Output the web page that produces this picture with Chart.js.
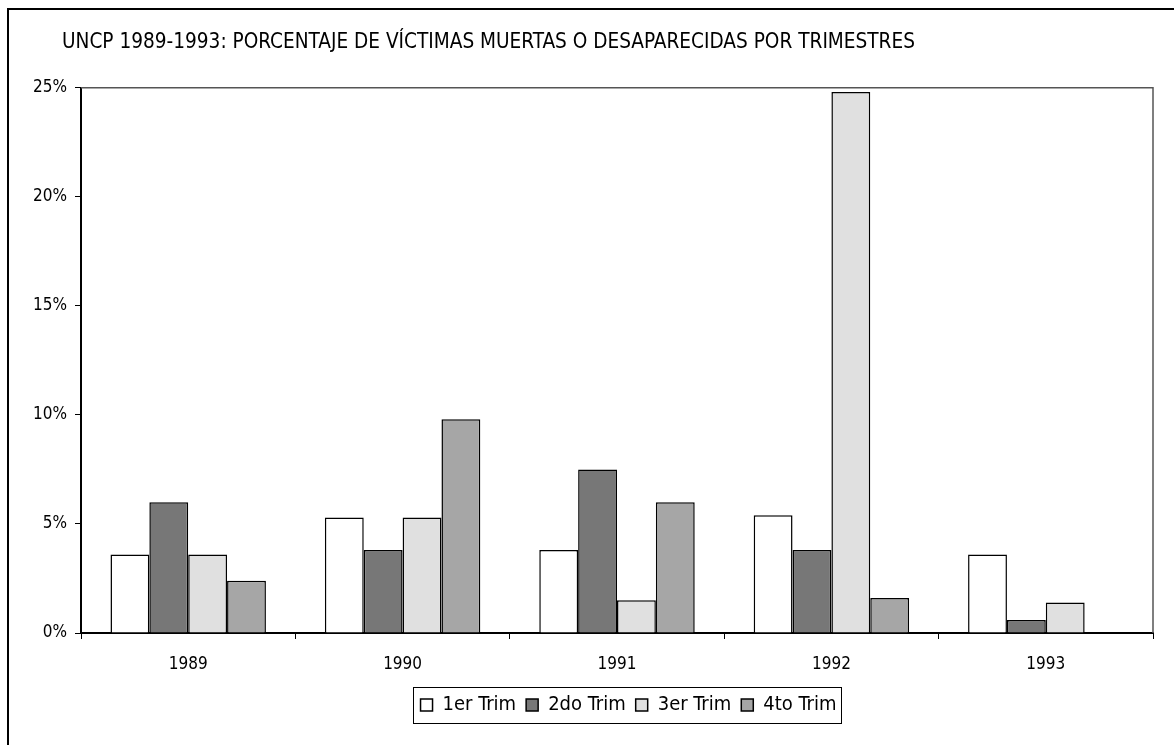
<!DOCTYPE html>
<html>
<head>
<meta charset="utf-8">
<script src="https://cdn.jsdelivr.net/npm/chart.js@4.4.1/dist/chart.umd.min.js"></script>
<style>
  html, body { margin: 0; padding: 0; background: #fff; }
  #wrap { position: relative; width: 1174px; height: 745px; }
</style>
</head>
<body>
<div id="wrap"><canvas id="chart"></canvas></div>
<script>
// Data (percent of victims per quarter)
const years = ["1989", "1990", "1991", "1992", "1993"];
const trim1 = [3.6, 5.3, 3.8, 5.4, 3.6];
const trim2 = [6.0, 3.8, 7.5, 3.8, 0.6];
const trim3 = [3.6, 5.3, 1.5, 24.8, 1.4];
const trim4 = [2.4, 9.8, 6.0, 1.6, 0];
const seriesNames = ["1er Trim", "2do Trim", "3er Trim", "4to Trim"];
const yTicks = [0, 5, 10, 15, 20, 25];

const FONT = "'DejaVu Sans Condensed', 'DejaVu Sans', sans-serif";
const fills = ["#ffffff", "#777777", "#e0e0e0", "#a6a6a6"];

// outer frame, plot frame (top/right) and legend box
const framePlugin = {
  id: "frames",
  beforeDraw(chart) {
    const ctx = chart.ctx;
    ctx.save();
    ctx.fillStyle = "#fff";
    ctx.fillRect(0, 0, chart.width, chart.height);
    ctx.strokeStyle = "#000";
    ctx.lineWidth = 2;
    ctx.strokeRect(8, 9, chart.width + 20, chart.height + 20);
    ctx.restore();
  },
  afterLayout(chart) {
    // title starts at x=62, legend sits right of centre in the original
    chart.titleBlock.left = 62;
    const lg = chart.legend;
    lg.left += 52;
    lg.right += 52;
  },
  afterDatasetsDraw(chart) {
    const { ctx, chartArea: a } = chart;
    ctx.save();
    ctx.strokeStyle = "#555";
    ctx.lineWidth = 1.5;
    ctx.beginPath();
    ctx.moveTo(a.left, a.top);
    ctx.lineTo(a.right, a.top);
    ctx.lineTo(a.right, a.bottom);
    ctx.stroke();
    ctx.restore();
  },
  afterDraw(chart) {
    const boxes = chart.legend.legendHitBoxes;
    if (!boxes || !boxes.length) return;
    const ctx = chart.ctx;
    const last = boxes[boxes.length - 1];
    const l = boxes[0].left - 8;
    const r = last.left + last.width + 4;
    const t = boxes[0].top - 8;
    const b = boxes[0].top + boxes[0].height + 8;
    ctx.save();
    ctx.strokeStyle = "#000";
    ctx.lineWidth = 1;
    ctx.strokeRect(Math.round(l) + 0.5, Math.round(t) + 0.5, Math.round(r - l), Math.round(b - t));
    ctx.restore();
  }
};

const allSeries = [trim1, trim2, trim3, trim4];

new Chart(document.getElementById("chart"), {
  type: "bar",
  data: {
    labels: years,
    datasets: allSeries.map((vals, i) => ({
      label: seriesNames[i],
      data: vals,
      backgroundColor: fills[i],
      borderColor: "#000",
      borderWidth: 1.5,
      categoryPercentage: 0.725,
      barPercentage: 1.0
    }))
  },
  options: {
    responsive: true,
    maintainAspectRatio: false,
    animation: false,
    layout: { padding: { left: 0, right: 21, top: 0, bottom: 20 } },
    plugins: {
      title: {
        display: true,
        text: "UNCP 1989-1993: PORCENTAJE DE VÍCTIMAS MUERTAS O DESAPARECIDAS POR TRIMESTRES",
        align: "start",
        color: "#000",
        font: { family: FONT, size: 20.6, weight: "normal" },
        padding: { top: 30, bottom: 33 }
      },
      legend: {
        position: "bottom",
        labels: {
          color: "#000",
          font: { family: FONT, size: 20 },
          boxWidth: 12,
          boxHeight: 12,
          padding: 10
        }
      },
      tooltip: { enabled: false }
    },
    scales: {
      x: {
        offset: true,
        grid: { offset: true, drawOnChartArea: false, tickLength: 6, color: "#000" },
        border: { color: "#000", width: 2 },
        ticks: { color: "#000", font: { family: FONT, size: 17 }, padding: 15 },
        afterFit(s) { s.height = 52; }
      },
      y: {
        min: 0,
        max: 25,
        afterBuildTicks(s) { s.ticks = yTicks.map(v => ({ value: v })); },
        grid: { drawOnChartArea: false, tickLength: 6, color: "#000" },
        border: { color: "#000", width: 2 },
        ticks: {
          color: "#000",
          font: { family: FONT, size: 17 },
          padding: 8,
          callback: v => v + "%"
        },
        afterFit(s) { s.width = 81; }
      }
    }
  },
  plugins: [framePlugin]
});
</script>
</body>
</html>
